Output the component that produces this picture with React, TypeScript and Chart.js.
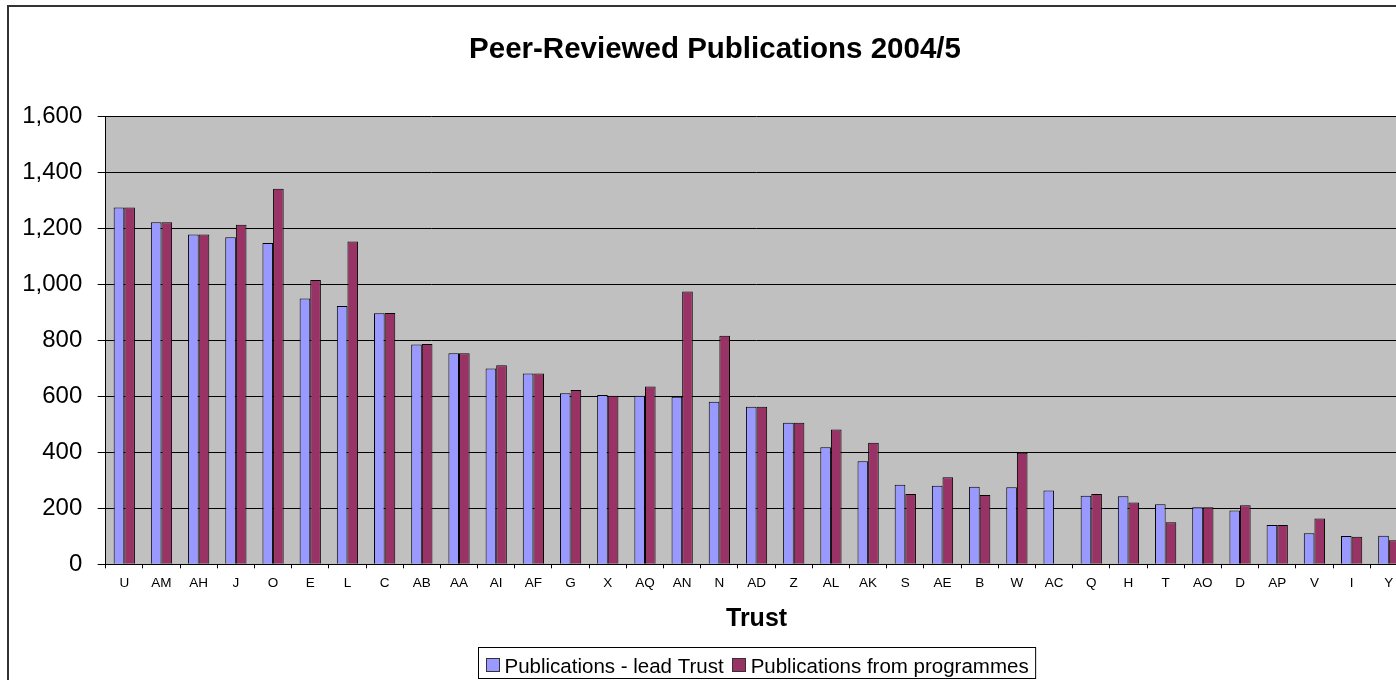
import { useEffect, useRef } from "react";
import { Chart, registerables } from "chart.js";

Chart.register(...registerables);

// Trusts, ordered by publications credited to the lead trust
const trusts = [
  "U", "AM", "AH", "J", "O", "E", "L", "C", "AB", "AA", "AI", "AF", "G", "X", "AQ", "AN", "N", "AD",
  "Z", "AL", "AK", "S", "AE", "B", "W", "AC", "Q", "H", "T", "AO", "D", "AP", "V", "I", "Y",
];

const leadTrust = [
  1275, 1222, 1178, 1169, 1148, 950, 923, 897, 785, 754, 700, 682, 611, 605, 602, 599, 581, 563,
  506, 418, 368, 284, 281, 277, 275, 264, 245, 243, 215, 204, 192, 140, 111, 101, 102,
];

const fromProgrammes = [
  1275, 1222, 1178, 1213, 1342, 1016, 1153, 898, 787, 754, 711, 682, 623, 602, 635, 975, 817, 563,
  506, 482, 434, 251, 311, 248, 399, null, 251, 221, 150, 204, 211, 140, 164, 98, 86,
];

const seriesNames = ["Publications - lead Trust", "Publications from programmes"];
const seriesColors = ["#9999FF", "#993366"];

const chartTitle = "Peer-Reviewed Publications 2004/5";
const xAxisTitle = "Trust";
const yMin = 0;
const yMax = 1600;
const yStep = 200;

const FONT = '"Liberation Sans", Arial, Helvetica, sans-serif';

// canvas and plot frame
const W = 1412;
const H = 700;
const PLOT_LEFT = 96.7;
const PLOT_TOP = 109.5;
const PLOT_BOTTOM = 557.3;
const PLOT_RIGHT = 1398.4;

const decorations = {
  id: "decorations",
  beforeDraw(chart: any) {
    const { ctx, chartArea } = chart;
    ctx.save();
    ctx.fillStyle = "#C0C0C0";
    ctx.fillRect(chartArea.left, chartArea.top, chartArea.right - chartArea.left, chartArea.bottom - chartArea.top);
    ctx.restore();
  },
  afterDraw(chart: any) {
    const { ctx, chartArea } = chart;
    const cx = (chartArea.left + chartArea.right) / 2;
    ctx.save();
    ctx.fillStyle = "#000";
    ctx.textBaseline = "alphabetic";
    ctx.textAlign = "center";

    // chart title, centred on the whole chart
    ctx.font = `bold 29.5px ${FONT}`;
    ctx.fillText(chartTitle, chart.width / 2, 51);

    // category axis title, centred on the plot
    ctx.font = `bold 25px ${FONT}`;
    ctx.fillText(xAxisTitle, cx, 618.7);

    // boxed legend below the axis title
    ctx.font = `20.5px ${FONT}`;
    const datasets = chart.data.datasets;
    const pad = 7;
    const sq = 13;
    const gapSq = 6;
    const gapItem = 8;
    const widths = datasets.map((d: any) => ctx.measureText(d.label).width);
    let total = pad * 2 + gapItem * (datasets.length - 1);
    widths.forEach((w: number) => (total += sq + gapSq + w));
    const left = Math.round(cx - total / 2) + 0.5;
    const top = 640.5;
    const boxH = 31;
    ctx.fillStyle = "#fff";
    ctx.fillRect(left, top, total, boxH);
    ctx.strokeStyle = "#000";
    ctx.lineWidth = 1;
    ctx.strokeRect(left, top, total, boxH);

    let x = left + pad;
    ctx.textAlign = "left";
    datasets.forEach((d: any, i: number) => {
      const sx = Math.round(x) + 0.5;
      ctx.fillStyle = d.backgroundColor;
      ctx.fillRect(sx, 651.5, sq, sq);
      ctx.strokeStyle = "#333";
      ctx.strokeRect(sx, 651.5, sq, sq);
      x += sq + gapSq;
      ctx.fillStyle = "#000";
      ctx.fillText(d.label, x, 665.5);
      x += widths[i] + gapItem;
    });
    ctx.restore();
  },
};

export default function App() {
  const canvasRef = useRef<HTMLCanvasElement | null>(null);

  useEffect(() => {
    document.documentElement.style.overflow = "hidden";
    document.body.style.overflow = "hidden";
    const canvas = canvasRef.current;
    if (!canvas) return;

    const chart = new Chart(canvas, {
      type: "bar",
      data: {
        labels: trusts,
        datasets: [
          {
            label: seriesNames[0],
            data: leadTrust,
            backgroundColor: seriesColors[0],
            borderColor: "#000",
            borderWidth: 1,
          },
          {
            label: seriesNames[1],
            data: fromProgrammes,
            backgroundColor: seriesColors[1],
            borderColor: "#000",
            borderWidth: 1,
          },
        ],
      },
      options: {
        responsive: false,
        animation: false,
        devicePixelRatio: 1,
        datasets: {
          bar: { categoryPercentage: 2 / 3.5, barPercentage: 1 },
        },
        layout: {
          padding: { left: 0, top: PLOT_TOP, right: W - PLOT_RIGHT, bottom: 0 },
        },
        plugins: {
          legend: { display: false },
          title: { display: false },
          tooltip: { enabled: false },
        },
        scales: {
          x: {
            grid: {
              offset: true,
              drawOnChartArea: false,
              drawTicks: true,
              tickLength: 4,
              color: "#000",
            },
            border: { display: true, color: "#000", width: 1 },
            ticks: {
              color: "#000",
              font: { family: FONT, size: 13.5 },
              padding: 7,
              maxRotation: 0,
              autoSkip: false,
            },
            afterFit: (scale: any) => {
              scale.height = H - PLOT_BOTTOM;
            },
          },
          y: {
            min: yMin,
            max: yMax,
            grid: { color: "#000", tickLength: 8, drawTicks: true },
            border: { display: true, color: "#000", width: 1 },
            ticks: {
              stepSize: yStep,
              color: "#000",
              font: { family: FONT, size: 24 },
              padding: 15.4,
              callback: (v: any) => Number(v).toLocaleString("en-US"),
            },
            afterFit: (scale: any) => {
              scale.width = PLOT_LEFT;
            },
          },
        },
      },
      plugins: [decorations],
    });

    return () => chart.destroy();
  }, []);

  return (
    <div
      style={{
        position: "absolute",
        left: 7,
        top: 5,
        width: W,
        height: H,
        border: "2px solid #333",
        background: "#fff",
      }}
    >
      <canvas ref={canvasRef} width={W} height={H} style={{ display: "block", width: W, height: H }} />
    </div>
  );
}
